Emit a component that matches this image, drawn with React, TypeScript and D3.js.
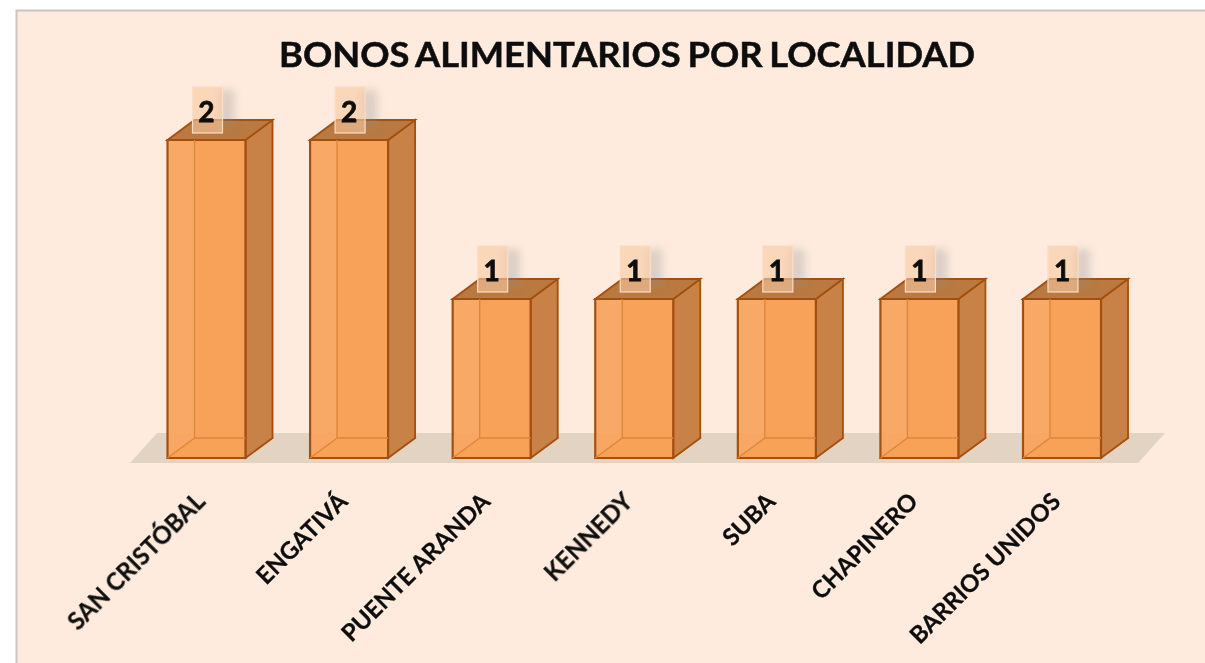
import React from "react";
import * as d3 from "d3";

const categories = ["SAN CRISTÓBAL", "ENGATIVÁ", "PUENTE ARANDA", "KENNEDY", "SUBA", "CHAPINERO", "BARRIOS UNIDOS"];
const values = [2, 2, 1, 1, 1, 1, 1];
const title = "BONOS ALIMENTARIOS POR LOCALIDAD";

const W = 1205, H = 663;
const DX = 27, DY = -20;
const x = d3.scaleBand<string>().domain(categories).range([167.5, 1101]).paddingInner(0.453).paddingOuter(0);
const y = d3.scaleLinear().domain([0, 2]).range([458, 140]);
const font = "Lato, 'Open Sans', sans-serif";
const poly = (pts: [number, number][]) => (d3.line()(pts) as string) + "Z";

export default function App() {
  const bw = x.bandwidth();
  return (
    <svg width={W} height={H} style={{ position: "absolute", left: 0, top: 0 }}>
      <defs>
        <filter id="soft" x="-5%" y="-5%" width="110%" height="110%"><feGaussianBlur stdDeviation="0.7" /></filter>
        <filter id="softText" x="-10%" y="-10%" width="120%" height="120%"><feGaussianBlur stdDeviation="0.7" /></filter>
        <filter id="shadow" x="-50%" y="-50%" width="200%" height="200%"><feGaussianBlur stdDeviation="4" /></filter>
      </defs>
      <rect width={W} height={H} fill="#ffffff" />
      <g filter="url(#soft)">
        <rect x={16.5} y={10.5} width={W} height={H} fill="#feebdd" stroke="#c9c5c0" strokeWidth={2} />
        <path d={poly([[130, 463], [157, 433], [1165, 433], [1138, 463]])} fill="#e3d3c3" />
        {categories.map((c, i) => {
          const x0 = x(c)!, x1 = x0 + bw, yb = y(0), yt = y(values[i]);
          const edge = "#a4500f";
          return (
            <g key={c}>
              <path d={poly([[x0 + DX, yt + DY], [x1 + DX, yt + DY], [x1 + DX, yb + DY], [x0 + DX, yb + DY]])} fill="#f09a50" stroke="#c67a35" strokeWidth={1.2} />
              <path d={poly([[x0, yb], [x1, yb], [x1 + DX, yb + DY], [x0 + DX, yb + DY]])} fill="#f0a05a" stroke="#c67a35" strokeWidth={1.2} />
              <path d={poly([[x1, yt], [x1 + DX, yt + DY], [x1 + DX, yb + DY], [x1, yb]])} fill="#c88247" stroke={edge} strokeWidth={1.8} />
              <path d={poly([[x0, yt], [x0 + DX, yt + DY], [x1 + DX, yt + DY], [x1, yt]])} fill="#b9793f" stroke={edge} strokeWidth={1.8} />
              <path d={poly([[x0, yt], [x1, yt], [x1, yb], [x0, yb]])} fill="#f8a259" fillOpacity={0.9} stroke={edge} strokeWidth={2.2} />
              <path d={`M${x0 + DX},${yt} V${yb + DY} H${x1}`} fill="none" stroke="#d9873f" strokeWidth={1.3} />
              <path d={`M${x0},${yb} L${x0 + DX},${yb + DY}`} fill="none" stroke="#d9873f" strokeWidth={1.3} />
            </g>
          );
        })}
        {categories.map((c, i) => {
          const cx = x(c)! + bw / 2, yt = y(values[i]);
          return (
            <g key={c + "-box"}>
              <rect x={cx + 12} y={yt - 50} width={16} height={38} fill="#8c8c8c" opacity={0.3} filter="url(#shadow)" />
              <rect x={cx - 14} y={yt - 53} width={30} height={46} fill="#f9c9a4" fillOpacity={0.6} stroke="#fbdcc4" strokeWidth={1.2} />
            </g>
          );
        })}
      </g>
      <g filter="url(#softText)" fill="#0c0c0c" fontFamily={font} fontWeight={700}>
        <text x={627} y={67} textAnchor="middle" fontSize={35} textLength={696} lengthAdjust="spacingAndGlyphs" wordSpacing={-2} stroke="#0c0c0c" strokeWidth={0.5}>{title}</text>
        {categories.map((c, i) => (
          <text key={c + "-v"} x={x(c)! + bw / 2} y={y(values[i]) - 18} textAnchor="middle" fontSize={28} stroke="#0c0c0c" strokeWidth={0.8}>{values[i]}</text>
        ))}
        {categories.map((c) => (
          <text key={c + "-t"} transform={`translate(${x(c)! + bw / 2},${503}) rotate(-45)`} textAnchor="end" fontSize={23.8} stroke="#0c0c0c" strokeWidth={0.25}>{c}</text>
        ))}
      </g>
    </svg>
  );
}
